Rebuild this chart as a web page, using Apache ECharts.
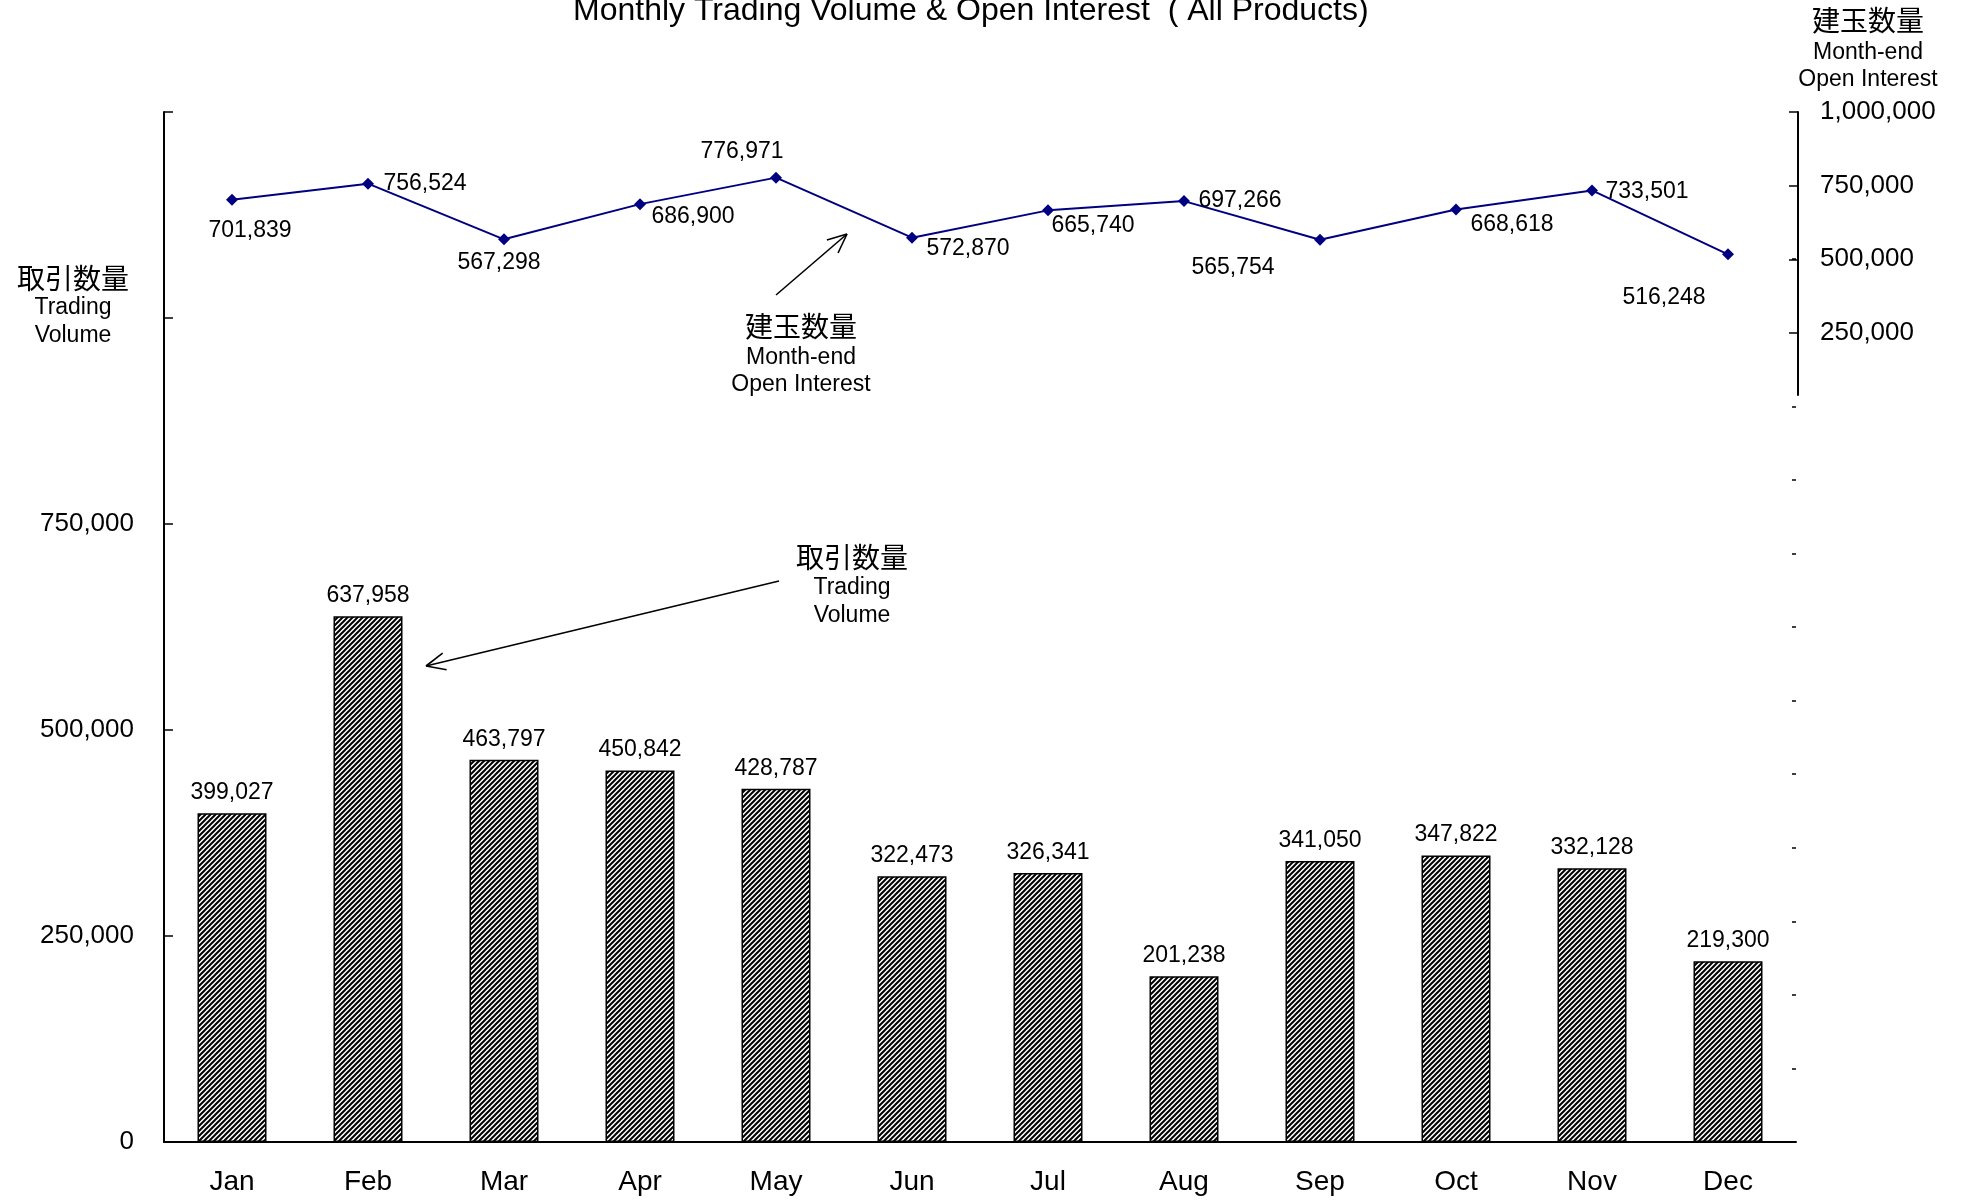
<!DOCTYPE html>
<html>
<head>
<meta charset="utf-8">
<script src="https://cdn.jsdelivr.net/npm/echarts@6/dist/echarts.min.js"></script>
<style>
  html, body { margin: 0; padding: 0; background: #fff; }
  #chart { width: 1968px; height: 1201px; }
</style>
</head>
<body>
<div id="chart"></div>
<script>
// data
const months = ['Jan', 'Feb', 'Mar', 'Apr', 'May', 'Jun', 'Jul', 'Aug', 'Sep', 'Oct', 'Nov', 'Dec']
const tradingVolume = [399027, 637958, 463797, 450842, 428787, 322473, 326341, 201238, 341050, 347822, 332128, 219300]
const openInterest = [701839, 756524, 567298, 686900, 776971, 572870, 665740, 697266, 565754, 668618, 733501, 516248]
const oiAxisTicks = [250000, 500000, 750000, 1000000]

// where each open-interest label sits relative to its point
const oiLabelOffsets = [
  [18, 31], [57, 0], [-5, 23], [53, 13], [-34, -26], [56, 11],
  [45, 15], [56, 0], [-87, 28], [56, 15], [55, 1], [-64, 43],
]

const FONT = '"Liberation Sans", Arial, sans-serif'
const CJK = '"Noto Sans CJK JP", sans-serif'
const fmt = (v) => Number(v).toLocaleString('en-US')

function hatch() {
  const s = 5
  const c = document.createElement('canvas')
  c.width = s
  c.height = s
  const g = c.getContext('2d')
  g.fillStyle = '#fff'
  g.fillRect(0, 0, s, s)
  g.strokeStyle = '#000'
  g.lineWidth = 2
  g.beginPath()
  g.moveTo(-1, 1); g.lineTo(1, -1)
  g.moveTo(0, s); g.lineTo(s, 0)
  g.moveTo(s - 1, s + 1); g.lineTo(s + 1, s - 1)
  g.stroke()
  return c
}

function arrow(x1, y1, x2, y2) {
  const a = Math.atan2(y2 - y1, x2 - x1)
  const len = 21
  const spread = 0.42
  const line = (ax, ay, bx, by) => ({
    type: 'line',
    shape: { x1: ax, y1: ay, x2: bx, y2: by },
    style: { stroke: '#000', lineWidth: 1.6 },
  })
  return [
    line(x1, y1, x2, y2),
    line(x2, y2, x2 - len * Math.cos(a - spread), y2 - len * Math.sin(a - spread)),
    line(x2, y2, x2 - len * Math.cos(a + spread), y2 - len * Math.sin(a + spread)),
  ]
}

function label(text, x, y, size, family) {
  return {
    type: 'text',
    x, y,
    style: { text, fill: '#000', font: `${size}px ${family}`, align: 'center', verticalAlign: 'middle' },
  }
}

const chart = echarts.init(document.getElementById('chart'))

chart.setOption({
  backgroundColor: '#fff',
  animation: false,
  title: {
    text: 'Monthly Trading Volume & Open Interest  ( All Products)',
    left: 568,
    top: -10,
    textStyle: { fontSize: 32, fontWeight: 'normal', color: '#000', fontFamily: FONT },
  },
  grid: [
    { left: 164, right: 172, top: 112, bottom: 59 },
    { left: 164, right: 170, top: 112, height: 283 },
  ],
  xAxis: [
    {
      type: 'category',
      gridIndex: 0,
      data: months,
      axisLine: { lineStyle: { color: '#000', width: 2 } },
      axisTick: { inside: true, length: 9, lineStyle: { color: '#000', width: 1.5 } },
      axisLabel: { color: '#000', fontSize: 28, fontFamily: FONT, margin: 26 },
    },
    { type: 'category', gridIndex: 1, data: months, show: false },
  ],
  yAxis: [
    {
      type: 'value',
      gridIndex: 0,
      min: 0,
      max: 1250000,
      interval: 250000,
      axisLine: { show: true, lineStyle: { color: '#000', width: 2 } },
      axisTick: { show: true, inside: true, length: 9, lineStyle: { color: '#000', width: 1.5 } },
      axisLabel: {
        color: '#000', fontSize: 26, fontFamily: FONT, margin: 30,
        formatter: (v) => (v <= 750000 ? fmt(v) : ''),
      },
      splitLine: { show: false },
    },
    {
      type: 'value',
      gridIndex: 0,
      position: 'right',
      min: -2500000,
      max: 1000000,
      interval: 250000,
      axisLine: { show: false },
      axisTick: { show: true, inside: true, length: 4, lineStyle: { color: '#000', width: 1.5 } },
      axisLabel: {
        color: '#000', fontSize: 26, fontFamily: FONT, margin: 24,
        formatter: (v) => (v >= 250000 ? fmt(v) : ''),
      },
      splitLine: { show: false },
    },
    {
      type: 'value',
      gridIndex: 1,
      position: 'right',
      min: 40000,
      max: 1000000,
      axisLine: { show: true, lineStyle: { color: '#000', width: 2 } },
      axisTick: { show: true, inside: true, length: 9, customValues: oiAxisTicks, lineStyle: { color: '#000', width: 1.5 } },
      axisLabel: { show: false },
      splitLine: { show: false },
    },
  ],
  series: [
    {
      name: 'Trading Volume',
      type: 'bar',
      xAxisIndex: 0,
      yAxisIndex: 0,
      barWidth: 69,
      data: tradingVolume,
      itemStyle: {
        color: { image: hatch(), repeat: 'repeat' },
        borderColor: '#000',
        borderWidth: 1.5,
      },
      label: {
        show: true,
        position: 'top',
        distance: 9,
        color: '#000',
        fontSize: 23,
        fontFamily: FONT,
        formatter: (p) => fmt(p.value),
      },
    },
    {
      name: 'Open Interest',
      type: 'line',
      xAxisIndex: 0,
      yAxisIndex: 1,
      symbol: 'diamond',
      symbolSize: 12,
      lineStyle: { color: '#000080', width: 2 },
      itemStyle: { color: '#000080' },
      data: openInterest.map((v, i) => ({
        value: v,
        label: { offset: oiLabelOffsets[i] },
      })),
      label: {
        show: true,
        position: 'inside',
        color: '#000',
        fontSize: 23,
        fontFamily: FONT,
        formatter: (p) => fmt(p.value),
      },
    },
  ],
  graphic: [
    label('取引数量', 73, 278, 28, CJK),
    label('Trading', 73, 308, 23, FONT),
    label('Volume', 73, 336, 23, FONT),

    label('建玉数量', 1868, 20, 28, CJK),
    label('Month-end', 1868, 53, 23, FONT),
    label('Open Interest', 1868, 80, 23, FONT),

    label('建玉数量', 801, 326, 28, CJK),
    label('Month-end', 801, 358, 23, FONT),
    label('Open Interest', 801, 385, 23, FONT),
    ...arrow(776, 295, 847, 234),

    label('取引数量', 852, 557, 28, CJK),
    label('Trading', 852, 588, 23, FONT),
    label('Volume', 852, 616, 23, FONT),
    ...arrow(779, 581, 426, 666),
  ],
})

window.addEventListener('resize', () => chart.resize())
</script>
</body>
</html>
